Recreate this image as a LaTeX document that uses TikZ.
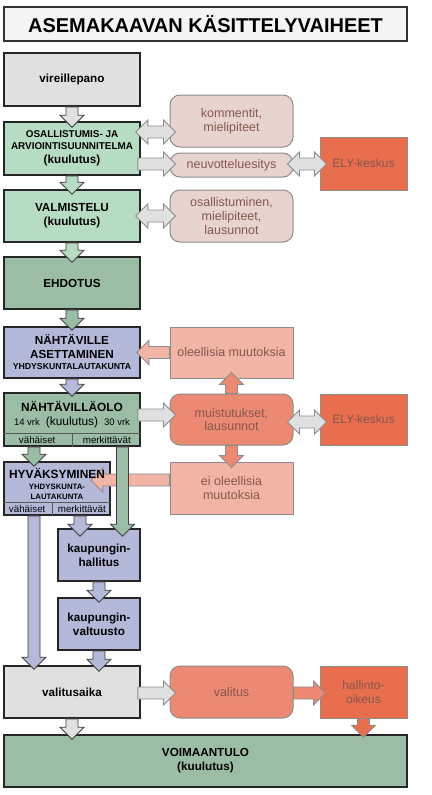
\documentclass[tikz,border=0pt]{standalone}
\usepackage{fontspec}
\setmainfont{Liberation Sans}
\usepackage{xcolor}
\usepackage{tikz}
\usetikzlibrary{calc}
\definecolor{titlegray}{HTML}{F4F4F4}
\definecolor{boxgray}{HTML}{E0E0E0}
\definecolor{lightgreen}{HTML}{B7DCC4}
\definecolor{darkgreen}{HTML}{9BBDA6}
\definecolor{lavender}{HTML}{B4B9DA}
\definecolor{palepink}{HTML}{E8D4CE}
\definecolor{lightsalmon}{HTML}{F2B4A4}
\definecolor{salmon}{HTML}{EC8973}
\definecolor{elyorange}{HTML}{E86E4E}
\definecolor{rimgray}{HTML}{8C8C8C}
\definecolor{mutedtext}{HTML}{85574F}
\tikzstyle{titlebox} = [rectangle, draw=black!80, line width=1.6pt, fill=titlegray, minimum width=403pt, minimum height=34pt, font=\bfseries\fontsize{20}{24}\selectfont]
\tikzstyle{stage} = [rectangle, draw=black!85, line width=1.6pt, minimum width=136pt, minimum height=53pt, align=center, inner sep=1pt, font=\bfseries\fontsize{11.7}{14}\selectfont]
\tikzstyle{comment} = [rectangle, draw=rimgray, line width=1pt, rounded corners=10pt, minimum width=123pt, minimum height=52pt, align=center, inner sep=1pt, text=mutedtext, font=\fontsize{12.5}{13.8}\selectfont]
\tikzstyle{change} = [comment, rounded corners=0pt]
\tikzstyle{authority} = [change, fill=elyorange, minimum width=87pt, minimum height=53pt, font=\fontsize{12}{13.8}\selectfont]
\tikzstyle{rowlabel} = [inner sep=0pt, font=\fontsize{9.8}{11}\selectfont]
\tikzstyle{divider} = [draw=black!65, line width=0.6pt]
\tikzstyle{mainarrow} = [draw=black!75, line width=0.9pt]
\tikzstyle{sidearrow} = [draw=rimgray, line width=0.9pt]
\newcommand{\arrowshaft}{6pt}
\newcommand{\arrowwing}{12pt}
\newcommand{\arrowhead}{12pt}
% block arrow from #2 to #3
\newcommand{\blockarrow}[3][]{%
  \coordinate (ba-s) at (#2);
  \coordinate (ba-t) at (#3);
  \coordinate (ba-h) at ($(ba-t)!\arrowhead!(ba-s)$);
  \path[#1] ($(ba-s)!\arrowshaft!90:(ba-t)$) -- ($(ba-h)!\arrowshaft!90:(ba-t)$)
    -- ($(ba-h)!\arrowwing!90:(ba-t)$) -- (ba-t)
    -- ($(ba-h)!\arrowwing!-90:(ba-t)$) -- ($(ba-h)!\arrowshaft!-90:(ba-t)$)
    -- ($(ba-s)!\arrowshaft!-90:(ba-t)$) -- cycle;}
% block arrow with heads at both ends
\newcommand{\doubleblockarrow}[3][]{%
  \coordinate (ba-s) at (#2);
  \coordinate (ba-t) at (#3);
  \coordinate (ba-h) at ($(ba-t)!\arrowhead!(ba-s)$);
  \coordinate (ba-g) at ($(ba-s)!\arrowhead!(ba-t)$);
  \path[#1] (ba-s) -- ($(ba-g)!\arrowwing!90:(ba-t)$) -- ($(ba-g)!\arrowshaft!90:(ba-t)$)
    -- ($(ba-h)!\arrowshaft!90:(ba-t)$) -- ($(ba-h)!\arrowwing!90:(ba-t)$) -- (ba-t)
    -- ($(ba-h)!\arrowwing!-90:(ba-t)$) -- ($(ba-h)!\arrowshaft!-90:(ba-t)$)
    -- ($(ba-g)!\arrowshaft!-90:(ba-t)$) -- ($(ba-g)!\arrowwing!-90:(ba-t)$) -- cycle;}

\begin{document}
\begin{tikzpicture}[x=1pt, y=-1pt]
    \useasboundingbox (0,0) rectangle (431,795);
    % Place nodes
    \node [titlebox] (title) at (205.5,24) {ASEMAKAAVAN KÄSITTELYVAIHEET};
    \node [stage, fill=boxgray] (vir) at (72,79.5) {vireillepano};
    \node [stage, fill=lightgreen] (osa) at (72,148.5) {{\fontsize{9.9}{12}\selectfont OSALLISTUMIS- JA}\\[-2pt]{\fontsize{9.9}{12}\selectfont ARVIOINTISUUNNITELMA}\\(kuulutus)};
    \node [stage, fill=lightgreen, minimum height=52pt] (val) at (72,216) {VALMISTELU\\(kuulutus)};
    \node [stage, fill=darkgreen, minimum height=52pt] (ehd) at (72,283) {EHDOTUS};
    \node [stage, fill=lavender, minimum height=51pt] (nah) at (72,352.5) {NÄHTÄVILLE\\ASETTAMINEN\\[-3pt]{\fontsize{8.7}{10}\selectfont YHDYSKUNTALAUTAKUNTA}};
    \node [stage, fill=darkgreen] (nao) at (72,419.5) {};
    \node [stage, fill=lavender, minimum width=106pt] (hyv) at (57,488.5) {};
    \node [stage, fill=lavender, minimum width=82pt, minimum height=52pt] (kh) at (99,555) {kaupungin-\\hallitus};
    \node [stage, fill=lavender, minimum width=82pt, minimum height=52pt] (kv) at (99,624) {kaupungin-\\valtuusto};
    \node [stage, fill=boxgray, minimum height=52pt] (vsa) at (72,692) {valitusaika};
    \node [stage, fill=darkgreen, minimum width=403pt, minimum height=52pt] (voi) at (205.5,761) {VOIMAANTULO\\(kuulutus)};
    \node [comment, fill=palepink] (kom) at (231.5,121) {kommentit,\\mielipiteet};
    \node [comment, fill=palepink, minimum height=24pt] (neu) at (231.5,165) {neuvotteluesitys};
    \node [authority] (ely) at (363.5,163.5) {ELY-keskus};
    \node [comment, fill=palepink] (osm) at (231.5,216) {osallistuminen,\\mielipiteet,\\lausunnot};
    \node [change, fill=lightsalmon, minimum height=51pt] (ole) at (231.5,352.5) {oleellisia muutoksia};
    \node [comment, fill=salmon, minimum height=51pt] (mui) at (231.5,419.5) {muistutukset,\\lausunnot};
    \node [authority, minimum height=51pt] (ely2) at (363.5,419.5) {ELY-keskus};
    \node [change, fill=lightsalmon] (eio) at (231.5,488) {ei oleellisia\\muutoksia};
    \node [comment, fill=salmon] (vtu) at (231.5,692) {valitus};
    \node [authority, minimum height=52pt] (hao) at (363.5,692) {hallinto-\\oikeus};
    % Rows at the foot of the two boxes
    \draw [divider] ([shift={(0,-14)}]nao.south west) -- ([shift={(0,-14)}]nao.south east);
    \draw [divider] ([shift={(0,-14)}]nao.south) -- (nao.south);
    \node [rowlabel] (naolow) at ([shift={(34,-7)}]nao.south west) {vähäiset};
    \node [rowlabel] (naohigh) at ([shift={(-34,-7)}]nao.south east) {merkittävät};
    \node [font=\bfseries\fontsize{11.9}{14}\selectfont, align=center, inner sep=0pt] (naotext) at ([shift={(0,-5)}]nao.center)
        {NÄHTÄVILLÄOLO\\{\mdseries\fontsize{9.5}{12}\selectfont 14 vrk\hspace{6pt}\fontsize{11.9}{14}\selectfont(kuulutus)\hspace{6pt}\fontsize{9.5}{12}\selectfont 30 vrk}};
    \draw [divider] ([shift={(0,-14)}]hyv.south west) -- ([shift={(0,-14)}]hyv.south east);
    \draw [divider] ([shift={(-5,-14)}]hyv.south) -- ([shift={(-5,0)}]hyv.south);
    \node [rowlabel] (hyvlow) at ([shift={(24,-7)}]hyv.south west) {vähäiset};
    \node [rowlabel] (hyvhigh) at ([shift={(-29,-7)}]hyv.south east) {merkittävät};
    \coordinate (naolowout) at ([shift={(-38,0)}]nao.south);
    \coordinate (naohighout) at ([shift={(50.5,0)}]nao.south);
    \coordinate (hyvlowout) at ([shift={(-23,0)}]hyv.south);
    \coordinate (hyvhighout) at ([shift={(23,0)}]hyv.south);
    % Draw edges
    \blockarrow[sidearrow, fill=lightsalmon]{[shift={(0,-8)}]eio.west}{[shift={(-20,-8.5)}]hyv.east}
    \node [font=\bfseries\fontsize{11.9}{14}\selectfont, align=center, inner sep=0pt] (hyvtext) at ([shift={(0,-5)}]hyv.center)
        {HYVÄKSYMINEN\\[-3pt]{\fontsize{7.8}{9}\selectfont YHDYSKUNTA-}\\[-4pt]{\fontsize{7.8}{9}\selectfont LAUTAKUNTA}};
    \blockarrow[mainarrow, fill=boxgray]{vir.south}{[shift={(0,6)}]osa.north}
    \blockarrow[mainarrow, fill=lightgreen]{osa.south}{[shift={(0,5)}]val.north}
    \blockarrow[mainarrow, fill=lightgreen]{val.south}{[shift={(0,6)}]ehd.north}
    \blockarrow[mainarrow, fill=darkgreen]{ehd.south}{[shift={(0,4)}]nah.north}
    \blockarrow[mainarrow, fill=lavender]{nah.south}{[shift={(0,4)}]nao.north}
    \blockarrow[mainarrow, fill=darkgreen]{naolowout}{$(naolowout |- hyv.north)+(0,5)$}
    \blockarrow[mainarrow, fill=darkgreen]{naohighout}{$(naohighout |- kh.north)+(0,8)$}
    \blockarrow[mainarrow, fill=lavender]{hyvhighout}{$(hyvhighout |- kh.north)+(0,8)$}
    \blockarrow[mainarrow, fill=lavender]{hyvlowout}{$(hyvlowout |- vsa.north)+(0,4)$}
    \blockarrow[mainarrow, fill=lavender]{kh.south}{[shift={(0,5)}]kv.north}
    \blockarrow[mainarrow, fill=lavender]{kv.south}{$(kv.south |- vsa.north)+(0,6)$}
    \blockarrow[mainarrow, fill=boxgray]{vsa.south}{$(vsa.south |- voi.north)+(0,5)$}
    \doubleblockarrow[sidearrow, fill=boxgray]{[shift={(-5,-16.5)}]osa.east}{[shift={(6,11)}]kom.west}
    \blockarrow[sidearrow, fill=boxgray]{[shift={(-3,15.5)}]osa.east}{[shift={(6,-1)}]neu.west}
    \doubleblockarrow[sidearrow, fill=boxgray]{[shift={(-6,-1)}]neu.east}{[shift={(7,0.5)}]ely.west}
    \doubleblockarrow[sidearrow, fill=boxgray]{[shift={(-5,0)}]val.east}{[shift={(6,0)}]osm.west}
    \blockarrow[sidearrow, fill=lightsalmon]{ole.west}{[shift={(-4,0)}]nah.east}
    \blockarrow[sidearrow, fill=boxgray]{[shift={(-3,-4.5)}]nao.east}{[shift={(6,-4.5)}]mui.west}
    \doubleblockarrow[sidearrow, fill=boxgray]{[shift={(-6,2.5)}]mui.east}{[shift={(7,2.5)}]ely2.west}
    \blockarrow[sidearrow, fill=salmon]{mui.north}{[shift={(0,-6)}]ole.south}
    \blockarrow[sidearrow, fill=salmon]{mui.south}{[shift={(0,6)}]eio.north}
    \blockarrow[sidearrow, fill=boxgray]{[shift={(-3,1)}]vsa.east}{[shift={(6,1)}]vtu.west}
    \blockarrow[sidearrow, fill=salmon]{[shift={(0,1)}]vtu.east}{[shift={(6,1)}]hao.west}
    \blockarrow[sidearrow, fill=elyorange]{hao.south}{$(hao.south |- voi.north)+(0,3)$}
\end{tikzpicture}
\end{document}
